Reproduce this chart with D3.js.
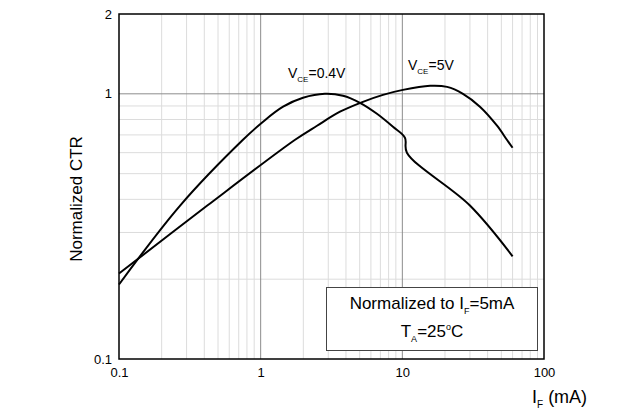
<!DOCTYPE html>
<html>
<head>
<meta charset="utf-8">
<title>Normalized CTR vs IF</title>
<script src="https://d3js.org/d3.v7.min.js"></script>
<style>
    body { margin: 0; background: #fff; }
    svg { display: block; font-family: "Liberation Sans", Arial, sans-serif; }
    .tick text { fill: #000; }
</style>
</head>
<body>
<svg id="chart" width="631" height="414"></svg>
<script>
    // forward current (mA) and normalized CTR
    const ifLow = [0.1, 0.27, 0.75, 1.04, 1.44, 1.99, 2.84, 3.81, 5.02, 6.62, 8.59, 10.43, 10.77, 30, 60];
    const ctrLow = [0.191, 0.379, 0.671, 0.785, 0.894, 0.966, 1.0, 0.983, 0.925, 0.841, 0.751, 0.683, 0.60, 0.379, 0.244];
    const ifHigh = [0.1, 0.42, 1.75, 2.5, 3.63, 5.27, 7.3, 10.1, 15.7, 20.7, 26.8, 35.3, 46.6, 54.7, 60];
    const ctrHigh = [0.21, 0.379, 0.671, 0.758, 0.856, 0.933, 0.991, 1.035, 1.072, 1.062, 1.0, 0.894, 0.758, 0.671, 0.626];

    const xTicks = [0.1, 1, 10, 100];
    const yTicks = [0.1, 1, 2];
    const xMinor = [0.2, 0.3, 0.4, 0.5, 0.6, 0.7, 0.8, 0.9, 2, 3, 4, 5, 6, 7, 8, 9, 20, 30, 40, 50, 60, 70, 80, 90];
    const xMajor = [1, 10];
    const yMinor = [0.2, 0.3, 0.4, 0.5, 0.6, 0.7, 0.8, 0.9];
    const yMajor = [1];

    const svg = d3.select('#chart');
    const plotL = 119, plotR = 544, plotT = 14, plotB = 359;

    const x = d3.scaleLog().domain([0.1, 100]).range([plotL, plotR]);
    const y = d3.scaleLog().domain([0.1, 2]).range([plotB, plotT]);

    // grid
    const grid = svg.append('g');
    grid.selectAll('.vmin').data(xMinor).enter().append('line')
        .attr('x1', d => x(d)).attr('x2', d => x(d))
        .attr('y1', plotT).attr('y2', plotB)
        .attr('stroke', '#dcdcdc').attr('stroke-width', 1);
    grid.selectAll('.hmin').data(yMinor).enter().append('line')
        .attr('x1', plotL).attr('x2', plotR)
        .attr('y1', d => y(d)).attr('y2', d => y(d))
        .attr('stroke', '#dcdcdc').attr('stroke-width', 1);
    grid.selectAll('.vmaj').data(xMajor).enter().append('line')
        .attr('x1', d => x(d)).attr('x2', d => x(d))
        .attr('y1', plotT).attr('y2', plotB)
        .attr('stroke', '#8c8c8c').attr('stroke-width', 1);
    grid.selectAll('.hmaj').data(yMajor).enter().append('line')
        .attr('x1', plotL).attr('x2', plotR)
        .attr('y1', d => y(d)).attr('y2', d => y(d))
        .attr('stroke', '#8c8c8c').attr('stroke-width', 1);

    // curves
    const line = d3.line()
        .x(d => x(d[0]))
        .y(d => y(d[1]))
        .curve(d3.curveCatmullRom.alpha(0.5));

    const curves = [d3.zip(ifLow, ctrLow), d3.zip(ifHigh, ctrHigh)];
    svg.append('g').selectAll('path').data(curves).enter().append('path')
        .attr('d', line)
        .attr('fill', 'none')
        .attr('stroke', '#000')
        .attr('stroke-width', 2);

    // legend box
    svg.append('rect')
        .attr('x', 326.5).attr('y', 287.5)
        .attr('width', 211).attr('height', 63)
        .attr('fill', '#fff').attr('stroke', '#444').attr('stroke-width', 1);

    const box1 = svg.append('text')
        .attr('x', 432).attr('y', 309)
        .attr('text-anchor', 'middle')
        .attr('font-size', 17);
    box1.append('tspan').text('Normalized to I');
    box1.append('tspan').attr('font-size', 9).attr('dy', 5).text('F');
    box1.append('tspan').attr('dy', -5).text('=5mA');

    const box2 = svg.append('text')
        .attr('x', 432).attr('y', 337)
        .attr('text-anchor', 'middle')
        .attr('font-size', 17);
    box2.append('tspan').text('T');
    box2.append('tspan').attr('font-size', 9).attr('dy', 5).text('A');
    box2.append('tspan').attr('dy', -5).text('=25');
    box2.append('tspan').attr('font-size', 9).attr('dy', -7).text('o');
    box2.append('tspan').attr('dy', 7).text('C');

    // frame
    svg.append('rect')
        .attr('x', plotL).attr('y', plotT)
        .attr('width', plotR - plotL).attr('height', plotB - plotT)
        .attr('fill', 'none').attr('stroke', '#000').attr('stroke-width', 1.5);

    // axes
    const xAxis = svg.append('g')
        .attr('transform', `translate(0,${plotB})`)
        .call(d3.axisBottom(x).tickValues(xTicks).tickSize(0).tickPadding(9)
            .tickFormat(d => String(d)));
    xAxis.select('.domain').remove();
    xAxis.selectAll('text').attr('font-size', 13).attr('font-family', '"Liberation Sans", Arial, sans-serif');

    const yAxis = svg.append('g')
        .attr('transform', `translate(${plotL},0)`)
        .call(d3.axisLeft(y).tickValues(yTicks).tickSize(0).tickPadding(7)
            .tickFormat(d => String(d)));
    yAxis.select('.domain').remove();
    yAxis.selectAll('text').attr('font-size', 13).attr('font-family', '"Liberation Sans", Arial, sans-serif');

    // curve labels
    const lab1 = svg.append('text').attr('x', 288).attr('y', 78).attr('font-size', 14);
    lab1.append('tspan').text('V');
    lab1.append('tspan').attr('font-size', 8).attr('dy', 4).text('CE');
    lab1.append('tspan').attr('dy', -4).text('=0.4V');

    const lab2 = svg.append('text').attr('x', 408).attr('y', 70).attr('font-size', 14);
    lab2.append('tspan').text('V');
    lab2.append('tspan').attr('font-size', 8).attr('dy', 4).text('CE');
    lab2.append('tspan').attr('dy', -4).text('=5V');

    // axis titles
    svg.append('text')
        .attr('transform', 'translate(82,199) rotate(-90)')
        .attr('text-anchor', 'middle')
        .attr('font-size', 17)
        .text('Normalized CTR');

    const xt = svg.append('text').attr('x', 532).attr('y', 403).attr('font-size', 18);
    xt.append('tspan').text('I');
    xt.append('tspan').attr('font-size', 10).attr('dy', 5).text('F');
    xt.append('tspan').attr('dy', -5).text(' (mA)');
</script>
</body>
</html>
